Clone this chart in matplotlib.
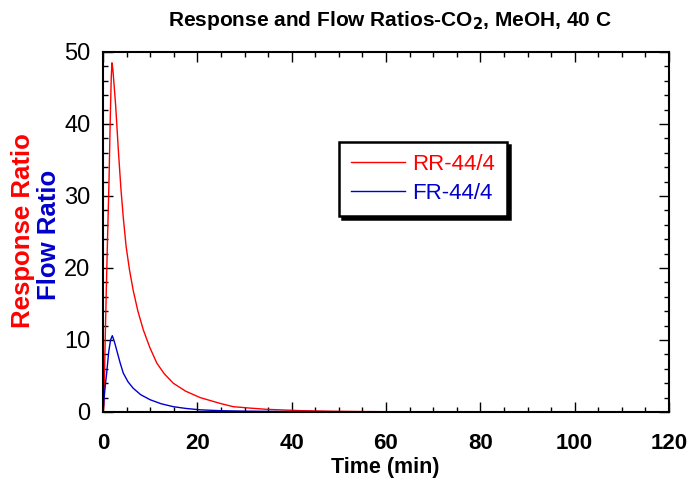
import matplotlib
matplotlib.use("Agg")
import matplotlib.pyplot as plt
from matplotlib.ticker import MultipleLocator

plt.rcParams['font.family'] = ['Liberation Sans', 'DejaVu Sans']

# Data
t_rr = [0, 0.1, 0.2, 0.4, 0.7, 0.92, 1.27, 1.55, 1.75, 1.9, 2.1, 2.4, 2.7, 3.25, 3.8, 4.3,
        4.9, 5.6, 6.4, 7.4, 8.55, 9.9, 11.4, 13.0, 14.9, 17.5, 20.6, 24.8, 27.6, 31.0,
        34.7, 41.8, 48.9, 55.0, 60.0, 68.0]
rr = [0, 0.3, 1.0, 8.0, 17.0, 23.0, 32.0, 41.0, 46.5, 48.5, 47.5, 45.0, 42.4, 36.4, 31.0, 27.0,
      23.0, 19.8, 16.9, 14.0, 11.4, 9.0, 6.8, 5.3, 4.0, 2.9, 2.0, 1.2, 0.74, 0.55,
      0.37, 0.19, 0.10, 0.06, 0.04, 0.02]

t_fr = [0, 0.2, 0.5, 0.78, 1.2, 1.6, 1.97, 2.4, 2.9, 3.6, 4.3, 5.3, 6.4, 8.0, 10.0,
        12.3, 14.9, 17.5, 20.6, 25.0, 30.0, 40.0, 60.0, 80.0, 100.0, 120.0]
fr = [0, 1.7, 3.8, 5.4, 8.3, 10.0, 10.6, 9.8, 8.6, 6.9, 5.4, 4.2, 3.3, 2.4, 1.7,
      1.15, 0.74, 0.5, 0.3, 0.18, 0.12, 0.06, 0.03, 0.02, 0.015, 0.01]

labels = ['RR-44/4', 'FR-44/4']
colors = ['#ff0000', '#0000cc']

fig = plt.figure(figsize=(6.9, 4.82), dpi=100)
ax = fig.add_axes([103/690, 1-412/482, 566/690, 360/482])

l1, = ax.plot(t_rr, rr, color=colors[0], lw=1.0)
l2, = ax.plot(t_fr, fr, color=colors[1], lw=1.0)

ax.set_xlim(0, 120)
ax.set_ylim(0, 50)
ax.xaxis.set_major_locator(MultipleLocator(20))
ax.xaxis.set_minor_locator(MultipleLocator(5))
ax.yaxis.set_major_locator(MultipleLocator(10))
ax.yaxis.set_minor_locator(MultipleLocator(2))
ax.tick_params(which='both', direction='in', top=True, right=True, width=1.0)
ax.tick_params(which='major', length=7.5)
ax.tick_params(which='minor', length=3.8)
ax.tick_params(axis='y', labelsize=17, pad=9)
ax.tick_params(axis='x', labelsize=16, pad=15)
for lab in ax.get_xticklabels():
    lab.set_fontweight('bold')
for s in ax.spines.values():
    s.set_linewidth(1.5)

fig.text(385/690, 1-467/482, 'Time (min)', ha='center', va='center',
         fontsize=15.5, fontweight='bold')
fig.text(390/690, 1-21/482, r'Response and Flow Ratios-CO$_\mathbf{2}$, MeOH, 40 C',
         ha='center', va='center', fontsize=15, fontweight='bold')

fig.text(23/690, 1-231/482, 'Response Ratio', color=colors[0], rotation=90,
         ha='center', va='center', fontsize=18.5, fontweight='bold')
fig.text(49/690, 1-235/482, 'Flow Ratio', color=colors[1], rotation=90,
         ha='center', va='center', fontsize=18.5, fontweight='bold')

leg = ax.legend([l1, l2], labels, loc='upper left', bbox_to_anchor=(0.417, 0.75),
                borderaxespad=0, fontsize=16, frameon=True, fancybox=False,
                edgecolor='black', framealpha=1, handlelength=2.4, handletextpad=0.35,
                borderpad=0.55, labelspacing=0.35,
                shadow={'color': 'black', 'alpha': 1})
leg.get_frame().set_linewidth(1.8)
for txt, c in zip(leg.get_texts(), colors):
    txt.set_color(c)

fig.savefig('out.png', dpi=100)
